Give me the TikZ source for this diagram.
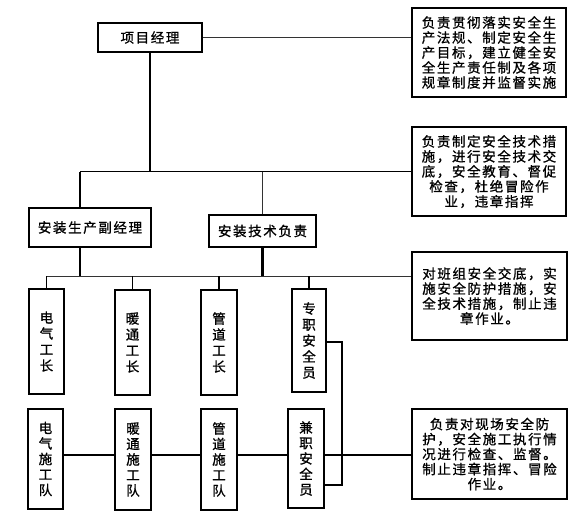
\documentclass[tikz,border=0pt]{standalone}
\usepackage{fontspec}
\newfontfamily\cjk{Noto Sans CJK SC}[LetterSpace=12,FakeBold=1]
\begin{document}
\begin{tikzpicture}[x=1pt,y=-1pt,
  box/.style={draw,line width=1.5pt,inner sep=0pt,align=center,
    font=\cjk\fontsize{13.5}{15}\selectfont},
  vbox/.style={box,font=\cjk\fontsize{13.5}{16}\selectfont},
  wbox/.style={box,font=\cjk\fontsize{13.5}{15.5}\selectfont},
  thinln/.style={line width=0.8pt,black!80},
  midln/.style={line width=1.2pt},
  thickln/.style={line width=2.2pt}]
\useasboundingbox (0,0) rectangle (574,515);
\fill[white] (0,0) rectangle (574,515);

% nodes
\node[box,minimum width=104pt,minimum height=29pt] (pm) at (150,37.5) {项目经理};
\node[box,minimum width=154pt,minimum height=89pt] (r1) at (489,52.5)
  {负责贯彻落实安全生\\产法规、制定安全生\\产目标，建立健全安\\全生产责任制及各项\\规章制度并监督实施};
\node[box,minimum width=154pt,minimum height=89pt] (r2) at (489,171.5)
  {负责制定安全技术措\\施，进行安全技术交\\底，安全教育、督促\\检查，杜绝冒险作\\业，违章指挥};
\node[box,minimum width=155pt,minimum height=88pt] (r3) at (489.5,296)
  {对班组安全交底，实\\施安全防护措施，安\\全技术措施，制止违\\章作业。};
\node[box,minimum width=155pt,minimum height=90pt] (r4) at (489.5,454)
  {负责对现场安全防\\护，安全施工执行情\\况进行检查、监督。\\制止违章指挥、冒险\\作业。};
\node[box,minimum width=122pt,minimum height=39pt] (dep) at (90,227.5) {安装生产副经理};
\node[box,minimum width=107pt,minimum height=32pt] (tech) at (262.5,231) {安装技术负责};

\node[vbox,minimum width=35pt,minimum height=105pt] (e1) at (46.5,341.5) {电\\气\\工\\长};
\node[vbox,minimum width=35pt,minimum height=105pt] (h1) at (132.5,342.5) {暖\\通\\工\\长};
\node[vbox,minimum width=36pt,minimum height=105pt] (p1) at (219,342.5) {管\\道\\工\\长};
\node[vbox,minimum width=34pt,minimum height=103pt] (s1) at (309,340.5) {专\\职\\安\\全\\员};

\node[wbox,minimum width=35pt,minimum height=100pt] (e2) at (45.5,459) {电\\气\\施\\工\\队};
\node[wbox,minimum width=36pt,minimum height=101pt] (h2) at (133,459.5) {暖\\通\\施\\工\\队};
\node[wbox,minimum width=36pt,minimum height=101pt] (p2) at (219,459.5) {管\\道\\施\\工\\队};
\node[wbox,minimum width=36pt,minimum height=99pt] (s2) at (306,458.5) {兼\\职\\安\\全\\员};

% junction coordinates
\coordinate (j1) at (150,171.5);
\coordinate (j2) at (80,276);
\coordinate (j3) at (0,455);
\coordinate (b1) at (342,342);
\coordinate (b2) at (342,485);

% connectors
\draw[thinln] (pm.east) -- (r1.west |- pm.east);
\draw[midln] (pm.south) -- (j1);
\draw[midln] (j2 |- j1) -- (r2.west);
\draw[midln] (j2 |- j1) -- (j2 |- dep.north);
\draw[thinln] (tech.north |- j1) -- (tech.north);

\draw[midln] (j2 |- dep.south) -- (j2);
\draw[thickln] (tech.south) -- (tech.south |- j2);
\draw[thinln] (e1.north |- j2) -- (r3.west |- j2);
\draw[midln] (e1.north |- j2) -- (e1.north);
\draw[midln] (h1.north |- j2) -- (h1.north);
\draw[midln] (p1.north |- j2) -- (p1.north);
\draw[midln] (s1.north |- j2) -- (s1.north);

\draw[midln] (e2.east |- j3) -- (h2.west |- j3);
\draw[midln] (h2.east |- j3) -- (p2.west |- j3);
\draw[midln] (p2.east |- j3) -- (s2.west |- j3);
\draw[midln] (s2.east |- j3) -- (r4.west |- j3);

\draw[midln] (s1.east |- b1) -- (b1) -- (b2) -- (s2.east |- b2);
\end{tikzpicture}
\end{document}
